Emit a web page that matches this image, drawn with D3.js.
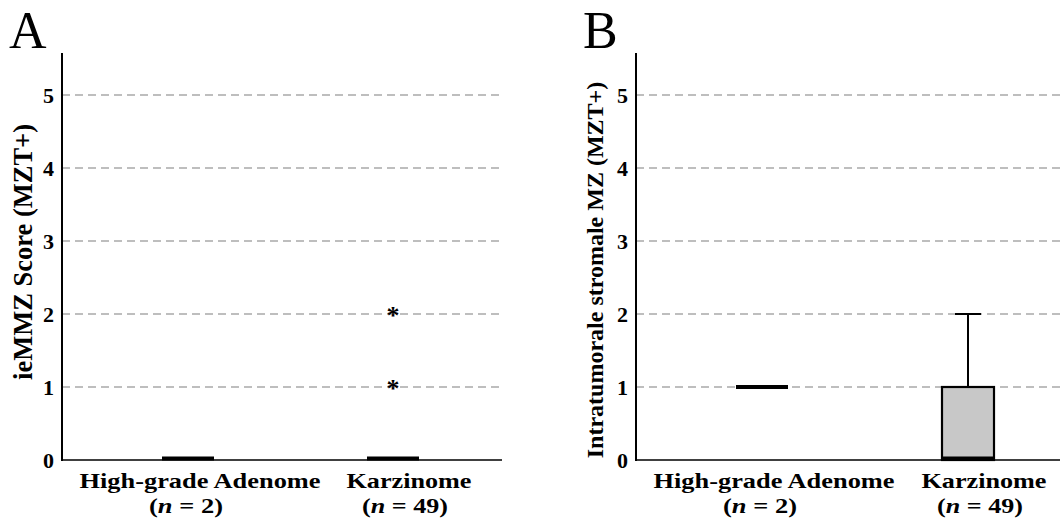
<!DOCTYPE html>
<html>
<head>
<meta charset="utf-8">
<script src="https://cdn.jsdelivr.net/npm/d3@7"></script>
<style>
  body { margin: 0; background: #fff; }
  svg { display: block; font-family: "Liberation Serif", "Times New Roman", serif; }
</style>
</head>
<body>
<svg id="chart" width="1060" height="523"></svg>
<script>
// ---- data ----
const categories = ["High-grade Adenome", "Karzinome"];
const sampleSizes = ["2", "49"];
const yTicks = [0, 1, 2, 3, 4, 5];

// Panel A: ieMMZ Score (MZT+)
const scoreA_q1 = [0, 0];
const scoreA_median = [0, 0];
const scoreA_q3 = [0, 0];
const scoreA_whiskerLow = [0, 0];
const scoreA_whiskerHigh = [0, 0];
const scoreA_outliers = [[], [1, 2]];

// Panel B: Intratumorale stromale MZ (MZT+)
const scoreB_q1 = [1, 0];
const scoreB_median = [1, 0];
const scoreB_q3 = [1, 1];
const scoreB_whiskerLow = [1, 0];
const scoreB_whiskerHigh = [1, 2];
const scoreB_outliers = [[], []];

const panels = [
  { letter: "A", title: "ieMMZ Score (MZT+)", titleSize: 26.5, left: 62, right: 502, titleX: 32, titleY: 252,
    q1: scoreA_q1, med: scoreA_median, q3: scoreA_q3, wl: scoreA_whiskerLow, wh: scoreA_whiskerHigh, out: scoreA_outliers },
  { letter: "B", title: "Intratumorale stromale MZ (MZT+)", titleSize: 24, left: 636, right: 1076, titleX: 603, titleY: 270,
    q1: scoreB_q1, med: scoreB_median, q3: scoreB_q3, wl: scoreB_whiskerLow, wh: scoreB_whiskerHigh, out: scoreB_outliers }
];

const svg = d3.select("#chart");
const y = d3.scaleLinear().domain([0, 5]).range([460, 95]);
const yTop = 5.575;
const boxW = 52;
const line1Dx = [12, 16];
const line2Dx = [-2, 12];
const line1W = [241, 125];
const line2W = [74, 86];

panels.forEach((p, pi) => {
  const g = svg.append("g");
  const x = d3.scalePoint().domain(categories).range([p.left + 126, p.left + 331 + pi]);

  // panel letter
  g.append("text").attr("x", p.left - 53).attr("y", 48)
    .attr("font-size", 52).text(p.letter);

  // gridlines
  g.selectAll(".grid").data(yTicks.filter(d => d > 0)).join("line")
    .attr("x1", p.left).attr("x2", p.right)
    .attr("y1", d => y(d)).attr("y2", d => y(d))
    .attr("stroke", "#a9a9a9").attr("stroke-width", 1.6).attr("stroke-dasharray", "8,5");

  // tick labels
  g.selectAll(".tl").data(yTicks).join("text")
    .attr("x", p.left - 8).attr("y", d => y(d)).attr("dy", "0.35em")
    .attr("text-anchor", "end").attr("font-size", 22).attr("font-weight", "bold")
    .text(d => d);

  // y title
  g.append("text")
    .attr("transform", `translate(${p.titleX},${p.titleY}) rotate(-90)`)
    .attr("text-anchor", "middle").attr("font-size", p.titleSize).attr("font-weight", "bold")
    .text(p.title);

  // boxes
  categories.forEach((c, i) => {
    const cx = x(c);
    // whisker
    if (p.wh[i] > p.q3[i]) {
      g.append("line").attr("x1", cx).attr("x2", cx).attr("y1", y(p.q3[i])).attr("y2", y(p.wh[i]))
        .attr("stroke", "#000").attr("stroke-width", 2);
      g.append("line").attr("x1", cx - boxW / 4).attr("x2", cx + boxW / 4)
        .attr("y1", y(p.wh[i])).attr("y2", y(p.wh[i]))
        .attr("stroke", "#000").attr("stroke-width", 2);
    }
    if (p.wl[i] < p.q1[i]) {
      g.append("line").attr("x1", cx).attr("x2", cx).attr("y1", y(p.q1[i])).attr("y2", y(p.wl[i]))
        .attr("stroke", "#000").attr("stroke-width", 2);
      g.append("line").attr("x1", cx - boxW / 4).attr("x2", cx + boxW / 4)
        .attr("y1", y(p.wl[i])).attr("y2", y(p.wl[i]))
        .attr("stroke", "#000").attr("stroke-width", 2);
    }
    if (p.q3[i] > p.q1[i]) {
      g.append("rect").attr("x", cx - boxW / 2).attr("width", boxW)
        .attr("y", y(p.q3[i])).attr("height", y(p.q1[i]) - y(p.q3[i]))
        .attr("fill", "#c8c8c8").attr("stroke", "#000").attr("stroke-width", 2.2);
    }
    // median
    const my = y(p.med[i]);
    g.append("line").attr("x1", cx - boxW / 2).attr("x2", cx + boxW / 2)
      .attr("y1", p.med[i] === 0 ? my - 1.5 : my).attr("y2", p.med[i] === 0 ? my - 1.5 : my)
      .attr("stroke", "#000").attr("stroke-width", 4);
    // outliers
    p.out[i].forEach(v => {
      g.append("text").attr("x", cx).attr("y", y(v)).attr("dy", "0.38em")
        .attr("text-anchor", "middle").attr("font-size", 26).attr("font-weight", "bold")
        .text("*");
    });
    // category labels
    g.append("text").attr("x", cx + line1Dx[i]).attr("y", 488)
      .attr("text-anchor", "middle").attr("font-size", 22).attr("font-weight", "bold")
      .attr("textLength", line1W[i]).attr("lengthAdjust", "spacingAndGlyphs")
      .text(c);
    const t2 = g.append("text").attr("x", cx + line2Dx[i]).attr("y", 513)
      .attr("text-anchor", "middle").attr("font-size", 22).attr("font-weight", "bold")
      .attr("textLength", line2W[i]).attr("lengthAdjust", "spacingAndGlyphs");
    t2.append("tspan").text("(");
    t2.append("tspan").attr("font-style", "italic").text("n");
    t2.append("tspan").text(" = " + sampleSizes[i] + ")");
  });

  // axes lines
  g.append("line").attr("x1", p.left).attr("x2", p.left).attr("y1", y(yTop)).attr("y2", y(0) + 1)
    .attr("stroke", "#000").attr("stroke-width", 2);
  g.append("line").attr("x1", p.left).attr("x2", p.right).attr("y1", y(0)).attr("y2", y(0))
    .attr("stroke", "#000").attr("stroke-width", 1.6);
});
</script>
</body>
</html>
